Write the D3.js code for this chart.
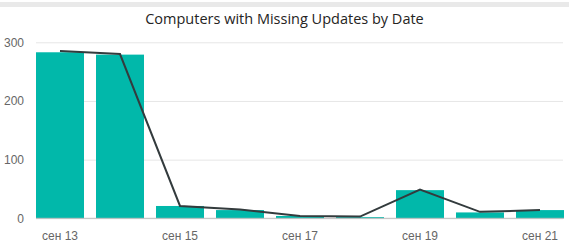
<!DOCTYPE html>
<html>
<head>
<meta charset="utf-8">
<script src="https://cdn.jsdelivr.net/npm/d3@7"></script>
<style>
  body { margin: 0; background: #fff; }
  svg { display: block; font-family: "Segoe UI", "Open Sans", sans-serif; }
</style>
</head>
<body>
<div id="chart"></div>
<script>
const dates = ["сен 13", "сен 14", "сен 15", "сен 16", "сен 17", "сен 18", "сен 19", "сен 20", "сен 21"];
const barValues = [283, 279, 21, 14, 4, 2, 48, 10, 14];
const lineValues = [285, 280, 21, 15, 4, 3, 49, 11, 14];
const yTicks = [0, 100, 200, 300];
const shownDates = ["сен 13", "сен 15", "сен 17", "сен 19", "сен 21"];

const width = 569, height = 251;

const svg = d3.select("#chart").append("svg")
  .attr("width", width)
  .attr("height", height);

// grey strip along the top edge
svg.append("rect")
  .attr("x", 0).attr("y", 2)
  .attr("width", width).attr("height", 5)
  .attr("fill", "#e9e9e9");

svg.append("text")
  .attr("x", 284.5).attr("y", 24)
  .attr("text-anchor", "middle")
  .style("font-size", "14.5px")
  .style("fill", "#252423")
  .text("Computers with Missing Updates by Date");

const x = d3.scaleBand()
  .domain(dates)
  .range([36, 564])
  .paddingInner(0.2)
  .paddingOuter(0);

const y = d3.scaleLinear()
  .domain([0, 300])
  .range([218.3, 42.3]);

// gridlines + y labels
const yAxis = svg.append("g")
  .attr("transform", "translate(36,0)")
  .call(d3.axisLeft(y).tickValues(yTicks).tickSize(-527).tickPadding(12));
yAxis.select(".domain").remove();
yAxis.selectAll(".tick line").attr("stroke", "#e6e6e6");
yAxis.selectAll(".tick text")
  .style("font-size", "12px")
  .style("fill", "#666");

svg.selectAll(".bar")
  .data(barValues)
  .join("rect")
  .attr("class", "bar")
  .attr("x", (d, i) => x(dates[i]))
  .attr("y", d => y(d))
  .attr("width", x.bandwidth())
  .attr("height", d => y(0) - y(d))
  .attr("fill", "#01b8aa");

// baseline
svg.append("line")
  .attr("x1", 36).attr("x2", 564)
  .attr("y1", y(0)).attr("y2", y(0))
  .attr("stroke", "#bdbdbd");

const line = d3.line()
  .x((d, i) => x(dates[i]) + x.bandwidth() / 2)
  .y(d => y(d));

svg.append("path")
  .datum(lineValues)
  .attr("d", line)
  .attr("fill", "none")
  .attr("stroke", "#333b3d")
  .attr("stroke-width", 2);

const xAxis = svg.append("g")
  .attr("transform", `translate(0,${y(0)})`)
  .call(d3.axisBottom(x).tickValues(shownDates).tickSize(0).tickPadding(13));
xAxis.select(".domain").remove();
xAxis.selectAll(".tick text")
  .style("font-size", "12px")
  .style("fill", "#666");
</script>
</body>
</html>
